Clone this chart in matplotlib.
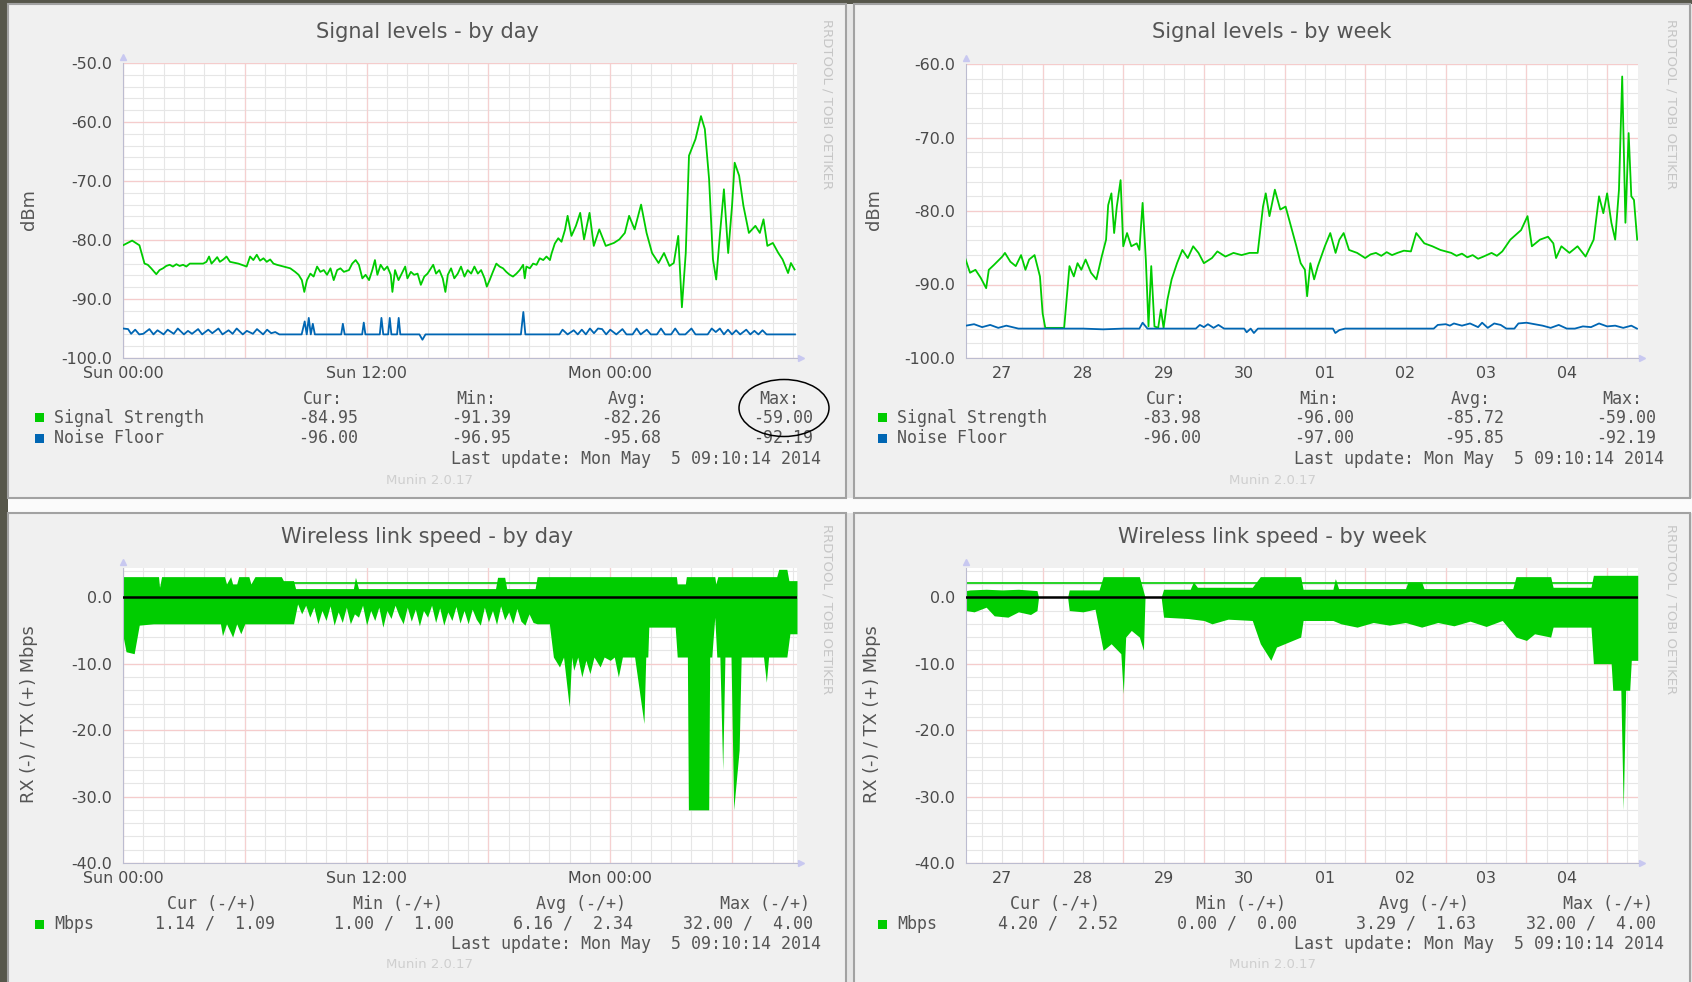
import numpy as np
import matplotlib.pyplot as plt
from matplotlib.patches import Rectangle, Ellipse
from matplotlib.ticker import FormatStrFormatter

W, H = 1692, 982

# Signal levels by day (hours since Sun 00:00)
sig_day_h = [0.00, 0.45, 0.81, 1.06, 1.22, 1.39, 1.64, 1.80, 1.97, 2.13, 2.30, 2.46, 2.63, 2.79,
             2.96, 3.12, 3.29, 3.70, 3.95, 4.11, 4.24, 4.36, 4.52, 4.64, 4.77, 4.94, 5.10, 5.27,
             5.68, 6.09, 6.26, 6.42, 6.59, 6.75, 6.92, 7.08, 7.25, 7.41, 7.58, 7.91, 8.24, 8.48,
             8.65, 8.81, 8.93, 9.06, 9.23, 9.39, 9.56, 9.72, 9.89, 10.05, 10.22, 10.38, 10.55,
             10.71, 10.88, 11.13, 11.29, 11.46, 11.62, 11.79, 11.95, 12.12, 12.28, 12.41, 12.53,
             12.69, 12.86, 13.02, 13.19, 13.27, 13.40, 13.57, 13.73, 13.90, 14.01, 14.18, 14.34,
             14.51, 14.67, 14.84, 15.00, 15.17, 15.28, 15.42, 15.58, 15.75, 15.88, 16.00, 16.16,
             16.32, 16.49, 16.65, 16.82, 16.98, 17.15, 17.31, 17.48, 17.64, 17.81, 17.92, 18.06,
             18.22, 18.39, 18.55, 18.72, 18.88, 19.05, 19.21, 19.38, 19.54, 19.71, 19.79, 19.87,
             20.04, 20.20, 20.37, 20.53, 20.70, 20.86, 21.03, 21.11, 21.27, 21.44, 21.60, 21.77,
             21.90, 22.09, 22.31, 22.52, 22.71, 22.98, 23.19, 23.46, 23.78, 24.18, 24.45, 24.72,
             24.93, 25.20, 25.52, 25.79, 26.06, 26.38, 26.65, 26.92, 27.13, 27.35, 27.53, 27.72,
             27.88, 28.20, 28.47, 28.66, 28.87, 29.06, 29.22, 29.41, 29.60, 29.81, 30.00, 30.13,
             30.35, 30.56, 30.83, 31.15, 31.37, 31.55, 31.74, 32.01, 32.28, 32.49, 32.76, 32.90,
             33.08]
sig_day_v = [-80.9, -80.1, -80.9, -84.0, -84.2, -84.8, -85.8, -85.1, -84.8, -84.4, -84.2, -84.5,
             -84.1, -84.4, -84.2, -84.5, -84.0, -84.0, -84.0, -83.7, -82.8, -84.0, -83.4, -82.9,
             -83.7, -83.3, -82.8, -83.7, -84.0, -84.5, -82.8, -83.4, -82.5, -83.5, -83.1, -83.7,
             -83.3, -84.0, -84.2, -84.5, -84.8, -85.4, -85.9, -86.8, -88.8, -86.8, -85.7, -86.2,
             -84.5, -85.4, -85.1, -85.9, -84.8, -86.8, -85.1, -84.8, -85.4, -85.1, -84.0, -83.4,
             -84.2, -86.5, -85.9, -86.8, -85.1, -83.4, -85.9, -84.2, -85.1, -84.5, -85.9, -88.8,
             -85.1, -86.8, -85.7, -84.5, -86.5, -85.4, -85.9, -85.7, -87.6, -86.2, -85.7, -84.8,
             -84.2, -85.7, -85.1, -86.5, -88.8, -85.9, -84.8, -86.5, -85.7, -84.5, -86.2, -85.1,
             -85.7, -84.5, -85.7, -85.1, -86.5, -87.9, -86.8, -85.4, -84.0, -84.5, -84.8, -85.4,
             -85.9, -86.2, -85.7, -85.1, -84.2, -86.5, -84.5, -84.8, -84.0, -84.2, -83.1, -83.4,
             -82.8, -83.4, -82.3, -80.6, -79.7, -80.3, -78.3,
             -75.9, -79.3, -77.6, -75.4, -79.9, -75.4, -81.0, -78.2, -81.0, -80.5, -79.9, -78.8,
             -75.9, -78.2, -74.0, -78.8, -82.2, -83.9, -82.2, -84.4, -83.9, -79.3, -91.4, -82.2,
             -65.7, -62.9, -59.0, -61.2, -69.7, -83.3, -86.7, -78.8, -71.4, -82.2, -74.2, -66.9,
             -69.1, -74.2, -78.8, -77.6, -78.8, -76.5, -81.0, -80.5, -82.2, -83.3, -85.6, -83.9,
             -85.0]
noise_day_h = [0.0, 0.25, 0.4, 0.6, 0.8, 1.0, 1.3, 1.5, 1.7, 2.0, 2.2, 2.5, 2.7, 3.0, 3.2, 3.4,
               3.7, 3.9, 4.2, 4.4, 4.7, 4.9, 5.2, 5.4, 5.6, 5.9, 6.1, 6.4, 6.6, 6.9, 7.1, 7.3,
               7.5, 7.7, 8.8, 8.95, 9.05, 9.15, 9.25, 9.35, 9.45, 10.75, 10.83, 10.92, 11.78,
               11.86, 11.94, 12.65, 12.73, 12.82, 13.06, 13.14, 13.22, 13.5, 13.58, 13.66, 14.6,
               14.75, 14.9, 19.6, 19.72, 19.82, 21.5, 21.65, 21.9, 22.2, 22.4, 22.6, 22.8, 23.0,
               23.2, 23.4, 23.6, 23.8, 24.0, 24.3, 24.6, 24.8, 25.1, 25.3, 25.5, 25.8, 26.0,
               26.3, 26.5, 26.7, 27.0, 27.2, 27.4, 27.7, 28.0, 28.2, 28.5, 28.8, 29.0, 29.2,
               29.4, 29.6, 29.8, 30.0, 30.2, 30.4, 30.7, 30.9, 31.1, 31.3, 31.5, 31.7, 32.0,
               32.3, 33.1]
noise_day_v = [-95.0, -95.1, -95.9, -95.2, -96.0, -95.9, -95.1, -96.0, -95.3, -96.0, -95.2,
               -95.9, -95.0, -96.0, -95.4, -95.9, -95.1, -96.0, -95.2, -95.8, -95.0, -96.0,
               -95.3, -95.9, -95.0, -96.0, -95.4, -95.9, -95.1, -96.0, -95.2, -95.8, -95.6,
               -96.0, -96.0, -93.8, -96.0, -93.2, -96.0, -94.2, -96.0, -96.0, -94.2, -96.0,
               -96.0, -94.0, -96.0, -96.0, -93.2, -96.0, -96.0, -93.2, -96.0, -96.0, -93.2,
               -96.0, -96.0, -96.9, -96.0, -96.0, -92.2, -96.0, -96.0, -95.2, -96.0, -95.3,
               -96.0, -95.2, -96.0, -95.0, -95.8, -95.0, -95.1, -96.0, -95.2, -96.0, -95.1,
               -96.0, -96.0, -95.0, -96.0, -95.2, -96.0, -96.0, -95.0, -96.0, -96.0, -95.0,
               -96.0, -96.0, -95.0, -96.0, -96.0, -96.0, -95.0, -95.6, -95.0, -96.0, -95.2,
               -96.0, -95.3, -96.0, -95.2, -96.0, -95.4, -96.0, -95.3, -96.0, -96.0, -96.0,
               -96.0]

# Signal levels by week (days since Apr 27 00:00)
sig_week_d = [0.033, 0.100, 0.167, 0.233, 0.300, 0.333, 0.400, 0.500, 0.533, 0.600, 0.667,
              0.733, 0.787, 0.833, 0.900, 0.967, 1.000, 1.033, 1.067, 1.267, 1.333, 1.387,
              1.433, 1.480, 1.533, 1.600, 1.667, 1.733, 1.787, 1.813, 1.853, 1.887, 1.920,
              1.967, 2.000, 2.047, 2.100, 2.167, 2.200, 2.240, 2.280, 2.313, 2.347, 2.387,
              2.433, 2.467, 2.500, 2.547, 2.600, 2.667, 2.733, 2.800, 2.867, 2.933, 3.000,
              3.100, 3.167, 3.267, 3.367, 3.467, 3.567, 3.667, 3.733, 3.767, 3.813, 3.880,
              3.947, 4.013, 4.080, 4.147, 4.200, 4.253, 4.280, 4.320, 4.367, 4.413, 4.500,
              4.567, 4.633, 4.680, 4.733, 4.800, 4.900, 5.000, 5.067, 5.133, 5.200, 5.267,
              5.333, 5.400, 5.480, 5.567, 5.633, 5.733, 5.833, 5.933, 6.000, 6.067, 6.133,
              6.200, 6.267, 6.333, 6.400, 6.467, 6.567, 6.633, 6.700, 6.800, 6.933, 7.013,
              7.067, 7.167, 7.267, 7.333, 7.367, 7.433, 7.533, 7.633, 7.733, 7.833, 7.900,
              7.953, 8.000, 8.053, 8.100, 8.147, 8.187, 8.227, 8.267, 8.300, 8.333, 8.373]
sig_week_v = [-86.2, -88.4, -88.0, -89.1, -90.5, -88.0, -87.3, -86.2, -85.7, -86.9, -87.5,
              -86.0, -88.0, -86.6, -86.0, -88.9, -93.9, -95.9, -95.9, -95.9, -87.5, -88.9,
              -87.1, -88.0, -86.6, -88.4, -89.3, -86.2, -83.9, -79.2, -77.6, -83.0, -79.4,
              -75.8, -84.8, -83.0, -84.8, -84.4, -85.3, -78.9, -86.6, -95.7, -87.5, -95.7,
              -95.9, -93.4, -95.9, -92.1, -89.3, -87.1, -85.3, -86.4, -84.8, -85.7, -87.1,
              -86.4, -85.5, -86.2, -85.7, -86.0, -85.7, -85.7, -79.4, -77.6, -80.7, -77.1,
              -79.8, -79.4, -82.1, -84.8, -87.1, -88.0, -91.6, -87.1, -89.3, -87.5, -84.8,
              -83.0, -85.7, -83.9, -83.0, -85.3, -85.7, -86.4, -85.9, -85.7, -86.1, -85.6,
              -86.0, -85.7, -85.4, -85.5, -83.0, -84.4, -84.8, -85.3, -85.5, -85.7, -86.1,
              -85.8, -86.3, -86.0, -86.5, -86.2, -85.7, -86.1, -85.5, -83.9, -82.6, -80.7,
              -84.8, -83.9, -83.5, -84.4, -86.4, -84.8, -85.7, -84.8, -86.2, -83.9, -78.0,
              -80.3, -77.6, -81.6, -83.9, -77.1, -61.7, -81.6, -69.4, -78.0, -78.5, -83.9]
noise_week_d = [0.05, 0.15, 0.25, 0.35, 0.45, 0.55, 0.7, 1.0, 1.5, 1.75, 2.0, 2.2, 2.24, 2.3,
                2.9, 2.95, 3.0, 3.05, 3.12, 3.18, 3.25, 3.5, 3.53, 3.58, 3.62, 3.67, 3.8, 4.1,
                4.5, 4.6, 4.63, 4.68, 4.75, 5.2, 5.7, 5.85, 5.9, 6.0, 6.05, 6.1, 6.2, 6.3,
                6.4, 6.45, 6.52, 6.6, 6.68, 6.75, 6.85, 6.9, 7.0, 7.1, 7.2, 7.3, 7.4, 7.5,
                7.6, 7.7, 7.8, 7.9, 8.0, 8.1, 8.2, 8.3, 8.37]
noise_week_v = [-95.6, -95.4, -95.8, -95.5, -95.9, -95.6, -96.0, -96.0, -96.0, -96.1, -96.0,
                -96.0, -95.2, -96.0, -96.0, -95.5, -95.8, -95.4, -95.9, -95.5, -96.0, -96.0,
                -96.5, -96.0, -96.6, -96.0, -96.0, -96.0, -96.0, -96.0, -96.6, -96.2, -96.0,
                -96.0, -96.0, -96.0, -95.5, -95.4, -95.6, -95.3, -95.6, -95.3, -95.8, -95.2,
                -95.9, -95.3, -95.5, -96.0, -96.0, -95.3, -95.2, -95.4, -95.6, -95.9, -95.5,
                -96.0, -96.0, -95.7, -95.8, -95.3, -95.7, -95.6, -95.9, -95.6, -96.0]

# Wireless link speed by day: TX (+) and RX (-) in Mbps
tx_day_h = [0.0, 1.75, 1.8, 1.9, 5.0, 5.1, 5.3, 5.4, 5.6, 5.7, 6.2, 6.3, 6.5, 7.8, 7.9, 8.4,
            8.5, 11.35, 11.45, 11.6, 18.35, 18.45, 18.8, 18.9, 20.3, 20.4, 27.26, 27.3, 27.7,
            27.75, 29.15, 29.2, 29.3, 32.2, 32.3, 32.7, 32.8, 33.2]
tx_day_v = [3.1, 3.1, 1.5, 3.1, 3.1, 2.0, 3.1, 2.0, 2.0, 3.1, 3.1, 2.0, 3.1, 3.1, 2.5, 2.5,
            1.3, 1.3, 3.0, 1.3, 1.3, 3.0, 3.0, 1.3, 1.3, 3.1, 3.1, 2.0, 2.0, 3.1, 3.1, 2.0,
            3.1, 3.1, 4.2, 4.2, 2.5, 2.5]
tx_line_day_h = [8.4, 20.4]
tx_line_day_v = [2.1, 2.1]
rx_day_h = [0.00, 0.15, 0.55, 0.80, 1.50, 4.8, 4.9, 5.1, 5.4, 5.6, 5.8, 6.0, 8.4, 8.6, 8.8,
            9.0, 9.2, 9.4, 9.6, 9.8, 10.0, 10.2, 10.4, 10.6, 10.8, 11.0, 11.2, 11.4, 11.6,
            11.8, 12.0, 12.2, 12.4, 12.6, 12.8, 13.0, 13.2, 13.4, 13.6, 13.8, 14.0, 14.2,
            14.4, 14.6, 14.8, 15.0, 15.2, 15.4, 15.6, 15.8, 16.0, 16.2, 16.4, 16.6, 16.8,
            17.0, 17.2, 17.4, 17.6, 17.8, 18.0, 18.2, 18.4, 18.6, 18.8, 19.0, 19.2, 19.4,
            19.6, 19.8, 20.0, 20.2, 20.4, 21.0, 21.2, 21.5, 21.7, 21.98, 22.1, 22.2, 22.4,
            22.6, 22.8, 23.0, 23.2, 23.5, 23.7, 24.0, 24.2, 24.4, 24.6, 25.2, 25.66, 25.75,
            25.85, 25.9, 27.2, 27.3, 27.8, 27.85, 28.85, 28.9, 29.0, 29.15, 29.25, 29.4,
            29.54, 29.65, 29.95, 30.08, 30.2, 30.35, 30.45, 31.55, 31.69, 31.8, 32.7, 32.85,
            33.2]
rx_day_v = [5.8, 8.2, 8.5, 4.2, 4.0, 4.0, 5.8, 4.0, 6.0, 4.0, 5.5, 4.0, 4.0, 1.0, 2.5, 1.2,
            3.0, 1.5, 4.0, 2.0, 3.5, 1.3, 4.2, 2.2, 3.8, 1.5, 4.0, 2.5, 3.0, 1.2, 4.2, 2.0,
            3.5, 1.5, 4.5, 2.0, 3.2, 1.2, 2.8, 4.0, 1.5, 3.6, 1.8, 4.3, 2.0, 3.0, 1.2, 3.8,
            1.6, 4.2, 2.2, 3.5, 1.4, 3.9, 2.0, 4.0, 1.8, 3.3, 4.2, 1.5, 3.7, 2.0, 4.1, 1.3,
            3.4, 2.2, 4.0, 1.7, 3.6, 4.2, 2.5, 3.8, 4.0, 4.0, 9.0, 10.5, 9.0, 16.5, 9.0,
            11.0, 9.0, 12.0, 9.5, 11.5, 9.0, 10.5, 9.0, 9.5, 9.0, 12.0, 9.0, 9.0, 19.0, 9.0,
            9.0, 4.5, 4.5, 9.0, 9.0, 32.0, 32.0, 9.0, 9.0, 3.0, 9.0, 9.0, 26.0, 9.0, 9.0,
            32.0, 28.0, 23.0, 9.0, 9.0, 12.8, 9.0, 9.0, 5.5, 5.5]

# Wireless link speed by week
tx_week_d = [0.05, 0.1, 0.3, 0.5, 0.7, 0.93, 0.95, 1.31, 1.33, 1.7, 1.75, 2.2, 2.27, 2.47,
             2.5, 2.83, 2.87, 2.92, 3.6, 3.7, 4.2, 4.23, 4.6, 4.63, 4.67, 5.5, 5.53, 5.7,
             5.73, 6.83, 6.87, 7.3, 7.33, 7.8, 7.83, 8.38]
tx_week_v = [1.0, 1.1, 1.2, 1.1, 1.2, 1.0, 0.0, 0.0, 1.1, 1.1, 3.1, 3.1, 0.0, 0.0, 1.2, 1.2,
             2.3, 1.5, 1.5, 3.1, 3.1, 1.2, 1.2, 2.8, 1.3, 1.3, 2.3, 2.3, 1.3, 1.3, 3.1, 3.1,
             1.5, 1.5, 3.3, 3.3]
tx_line_week_d = [0.05, 8.38]
tx_line_week_v = [2.1, 2.1]
rx_week_d = [0.05, 0.15, 0.3, 0.4, 0.57, 0.7, 0.85, 0.93, 0.95, 1.31, 1.33, 1.5, 1.65, 1.75,
             1.85, 1.97, 2.0, 2.03, 2.1, 2.2, 2.25, 2.27, 2.47, 2.5, 2.8, 3.0, 3.1, 3.3, 3.6,
             3.7, 3.83, 3.9, 4.0, 4.2, 4.23, 4.6, 4.7, 4.9, 5.1, 5.3, 5.5, 5.7, 5.9, 6.1,
             6.3, 6.5, 6.7, 6.87, 7.0, 7.1, 7.3, 7.33, 7.8, 7.83, 8.05, 8.07, 8.17, 8.2,
             8.23, 8.28, 8.3, 8.38]
rx_week_v = [2.0, 2.2, 1.5, 2.8, 3.0, 2.2, 2.6, 2.0, 0.0, 0.0, 2.0, 2.2, 1.8, 8.0, 7.0, 8.5,
             14.5, 6.0, 5.0, 6.0, 8.0, 0.0, 0.0, 3.0, 3.2, 3.5, 4.0, 3.3, 3.5, 7.0, 9.5, 7.5,
             7.0, 6.0, 3.5, 3.5, 4.0, 4.5, 3.8, 4.2, 3.8, 4.5, 3.8, 4.3, 3.6, 4.4, 3.5, 6.0,
             6.5, 5.5, 6.0, 4.5, 4.5, 10.0, 10.0, 14.0, 14.0, 32.0, 14.0, 14.0, 9.5, 9.5]

day_tick_pos = [0, 12, 24]
day_tick_lab = ["Sun 00:00", "Sun 12:00", "Mon 00:00"]
week_tick_pos = [0.5, 1.5, 2.5, 3.5, 4.5, 5.5, 6.5, 7.5]
week_tick_lab = ["27", "28", "29", "30", "01", "02", "03", "04"]

GREEN = "#00cc00"
BLUE = "#0066b3"
TXT = "#555555"

fig = plt.figure(figsize=(W / 100, H / 100), dpi=100)
fig.patch.set_facecolor("#56564a")


def fx(x):
    return x / W


def fy(y):
    return 1 - y / H


def ftext(x, y, s, **kw):
    fig.text(fx(x), fy(y), s, **kw)


def frect(l, t, r, b, **kw):
    fig.add_artist(Rectangle((fx(l), fy(b)), (r - l) / W, (b - t) / H,
                             transform=fig.transFigure, **kw))


# light gaps and panels
frect(8, 4, W, H + 5, facecolor="#e6e6e6", edgecolor="none", zorder=-10)
frect(8, 498, W, 513, facecolor="#fbfbfb", edgecolor="none", zorder=-9)
for l, t, r, b in [(8, 4, 846, 498), (854, 4, 1690, 498),
                   (8, 513, 846, H + 5), (854, 513, 1690, H + 5)]:
    frect(l, t, r, b, facecolor="#f0f0f0", edgecolor="#a2a2a2", lw=1.5, zorder=-8)


def make_ax(l, t, r, b):
    ax = fig.add_axes([fx(l), fy(b), (r - l) / W, (b - t) / H])
    ax.set_facecolor("white")
    for s in ["top", "right"]:
        ax.spines[s].set_visible(False)
    for s in ["left", "bottom"]:
        ax.spines[s].set_color("#bcbcd0")
    ax.tick_params(length=0, labelsize=11.4, labelcolor="#4a4a4a")
    ax.tick_params(axis="y", pad=8)
    ax.tick_params(axis="x", pad=6)
    ax.yaxis.set_major_formatter(FormatStrFormatter("%.1f"))
    ax.plot([1.006], [0], marker=">", ms=5, color="#c8c8f0", transform=ax.transAxes, clip_on=False)
    ax.plot([0], [1.02], marker="^", ms=5, color="#c8c8f0", transform=ax.transAxes, clip_on=False)
    return ax


def grid(ax, xmin, xmaj, ymin, ymaj):
    for x in xmin:
        ax.axvline(x, color="#e6e6e6", lw=0.8, zorder=0)
    for y in ymin:
        ax.axhline(y, color="#e6e6e6", lw=0.8, zorder=0)
    for x in xmaj:
        ax.axvline(x, color="#f5d0d0", lw=0.9, zorder=0.5)
    for y in ymaj:
        ax.axhline(y, color="#f5cccc", lw=0.9, zorder=0.5)


def panel_text(l, r, title, top, ylab, ylab_x, ylab_y):
    cx = (l + r) / 2
    ftext(cx, top + 28, title, ha="center", va="center", fontsize=15, color=TXT)
    ftext(ylab_x, ylab_y, ylab, ha="center", va="center", rotation=90, fontsize=12.8, color=TXT)
    ftext(r - 19, top + 100, "RRDTOOL / TOBI OETIKER", ha="center", va="center",
          rotation=270, fontsize=9.5, color="#c6c6c6")


mono = dict(family="DejaVu Sans Mono", fontsize=12, color=TXT, va="center")

# ---------------- signal panels ----------------
for col, (l, r) in enumerate([(123, 797), (966, 1638)]):
    ax = make_ax(l, 64 if col else 63, r, 358)
    if col == 0:
        grid(ax, np.arange(0, 34, 1), np.arange(0, 34, 6), np.arange(-100, -49, 2), np.arange(-100, -49, 10))
        ax.plot(sig_day_h, sig_day_v, color=GREEN, lw=1.3, zorder=3)
        ax.plot(noise_day_h, noise_day_v, color=BLUE, lw=1.3, zorder=3)
        ax.set_xlim(0, 33.2)
        ax.set_ylim(-100, -50)
        ax.set_yticks(np.arange(-100, -49, 10))
        ax.set_xticks(day_tick_pos, day_tick_lab)
    else:
        grid(ax, np.arange(0, 8.5, 0.25), np.arange(1, 9, 1), np.arange(-100, -59, 2), np.arange(-100, -59, 10))
        ax.plot(sig_week_d, sig_week_v, color=GREEN, lw=1.3, zorder=3)
        ax.plot(noise_week_d, noise_week_v, color=BLUE, lw=1.3, zorder=3)
        ax.set_xlim(0.05, 8.383)
        ax.set_ylim(-100, -60)
        ax.set_yticks(np.arange(-100, -59, 10))
        ax.set_xticks(week_tick_pos, week_tick_lab)

stats_sig = [
    (["-84.95", "-91.39", "-82.26", "-59.00"], ["-96.00", "-96.95", "-95.68", "-92.19"]),
    (["-83.98", "-96.00", "-85.72", "-59.00"], ["-96.00", "-97.00", "-95.85", "-92.19"]),
]
for col, dx in enumerate([0, 843]):
    l, r = (8, 846) if col == 0 else (854, 1690)
    panel_text(l, r, "Signal levels - by day" if col == 0 else "Signal levels - by week",
               4, "dBm", 29 + dx + (2 if col else 0), 210)
    for hdr, xe in zip(["Cur:", "Min:", "Avg:", "Max:"], [343, 496, 648, 799]):
        ftext(xe + dx, 399, hdr, ha="right", **mono)
    for row, (name, col_c, vals) in enumerate([("Signal Strength", GREEN, stats_sig[col][0]),
                                               ("Noise Floor", BLUE, stats_sig[col][1])]):
        y = 418 + row * 20
        frect(35 + dx, y - 4.5, 44 + dx, y + 4.5, facecolor=col_c, edgecolor="none", zorder=5)
        ftext(54 + dx, y, name, ha="left", **mono)
        for v, xe in zip(vals, [358, 511, 661, 813]):
            ftext(xe + dx, y, v, ha="right", **mono)
    ftext(821 + dx, 459, "Last update: Mon May  5 09:10:14 2014", ha="right", **mono)
    ftext(429 + dx, 480, "Munin 2.0.17", ha="center", va="center", fontsize=9.5, color="#cfcfcf")

# ---------------- wireless speed panels ----------------
for col, (l, r) in enumerate([(123, 797), (966, 1638)]):
    ax = make_ax(l, 568, r, 863)
    ax.set_ylim(-40, 4.4)
    ax.set_yticks(np.arange(-40, 1, 10))
    if col == 0:
        grid(ax, np.arange(0, 34, 1), np.arange(0, 34, 6), np.arange(-40, 5, 2), np.arange(-40, 1, 10))
        ax.fill_between(tx_day_h, 0, tx_day_v, color=GREEN, lw=0, zorder=2)
        ax.fill_between(rx_day_h, 0, -np.array(rx_day_v), color=GREEN, lw=0, zorder=2)
        ax.plot(tx_line_day_h, tx_line_day_v, color=GREEN, lw=1.2, zorder=2)
        ax.set_xlim(0, 33.2)
        ax.set_xticks(day_tick_pos, day_tick_lab)
    else:
        grid(ax, np.arange(0, 8.5, 0.25), np.arange(1, 9, 1), np.arange(-40, 5, 2), np.arange(-40, 1, 10))
        ax.fill_between(tx_week_d, 0, tx_week_v, color=GREEN, lw=0, zorder=2)
        ax.fill_between(rx_week_d, 0, -np.array(rx_week_v), color=GREEN, lw=0, zorder=2)
        ax.plot(tx_line_week_d, tx_line_week_v, color=GREEN, lw=1.2, zorder=2)
        ax.set_xlim(0.05, 8.383)
        ax.set_xticks(week_tick_pos, week_tick_lab)
    ax.axhline(0, color="black", lw=1.8, zorder=3)

stats_spd = [["1.14 /  1.09", "1.00 /  1.00", "6.16 /  2.34", "32.00 /  4.00"],
             ["4.20 /  2.52", "0.00 /  0.00", "3.29 /  1.63", "32.00 /  4.00"]]
for col, dx in enumerate([0, 843]):
    l, r = (8, 846) if col == 0 else (854, 1690)
    panel_text(l, r, "Wireless link speed - by day" if col == 0 else "Wireless link speed - by week",
               509, "RX (-) / TX (+) Mbps", 29 + dx, 714)
    for hdr, xe in zip(["Cur (-/+)", "Min (-/+)", "Avg (-/+)", "Max (-/+)"], [257, 443, 626, 810]):
        ftext(xe + dx, 904, hdr, ha="right", **mono)
    frect(35 + dx, 919.5, 44 + dx, 928.5, facecolor=GREEN, edgecolor="none", zorder=5)
    ftext(54 + dx, 924, "Mbps", ha="left", **mono)
    for v, xe in zip(stats_spd[col], [275, 454, 633, 813]):
        ftext(xe + dx, 924, v, ha="right", **mono)
    ftext(821 + dx, 944, "Last update: Mon May  5 09:10:14 2014", ha="right", **mono)
    ftext(429 + dx, 965, "Munin 2.0.17", ha="center", va="center", fontsize=9.5, color="#cfcfcf")

# hand drawn circle around the max value
fig.add_artist(Ellipse((fx(784), fy(408)), 90 / W, 57 / H, transform=fig.transFigure,
                       facecolor="none", edgecolor="black", lw=1.1, zorder=10))

fig.savefig("out.png", dpi=100, facecolor=fig.get_facecolor())
